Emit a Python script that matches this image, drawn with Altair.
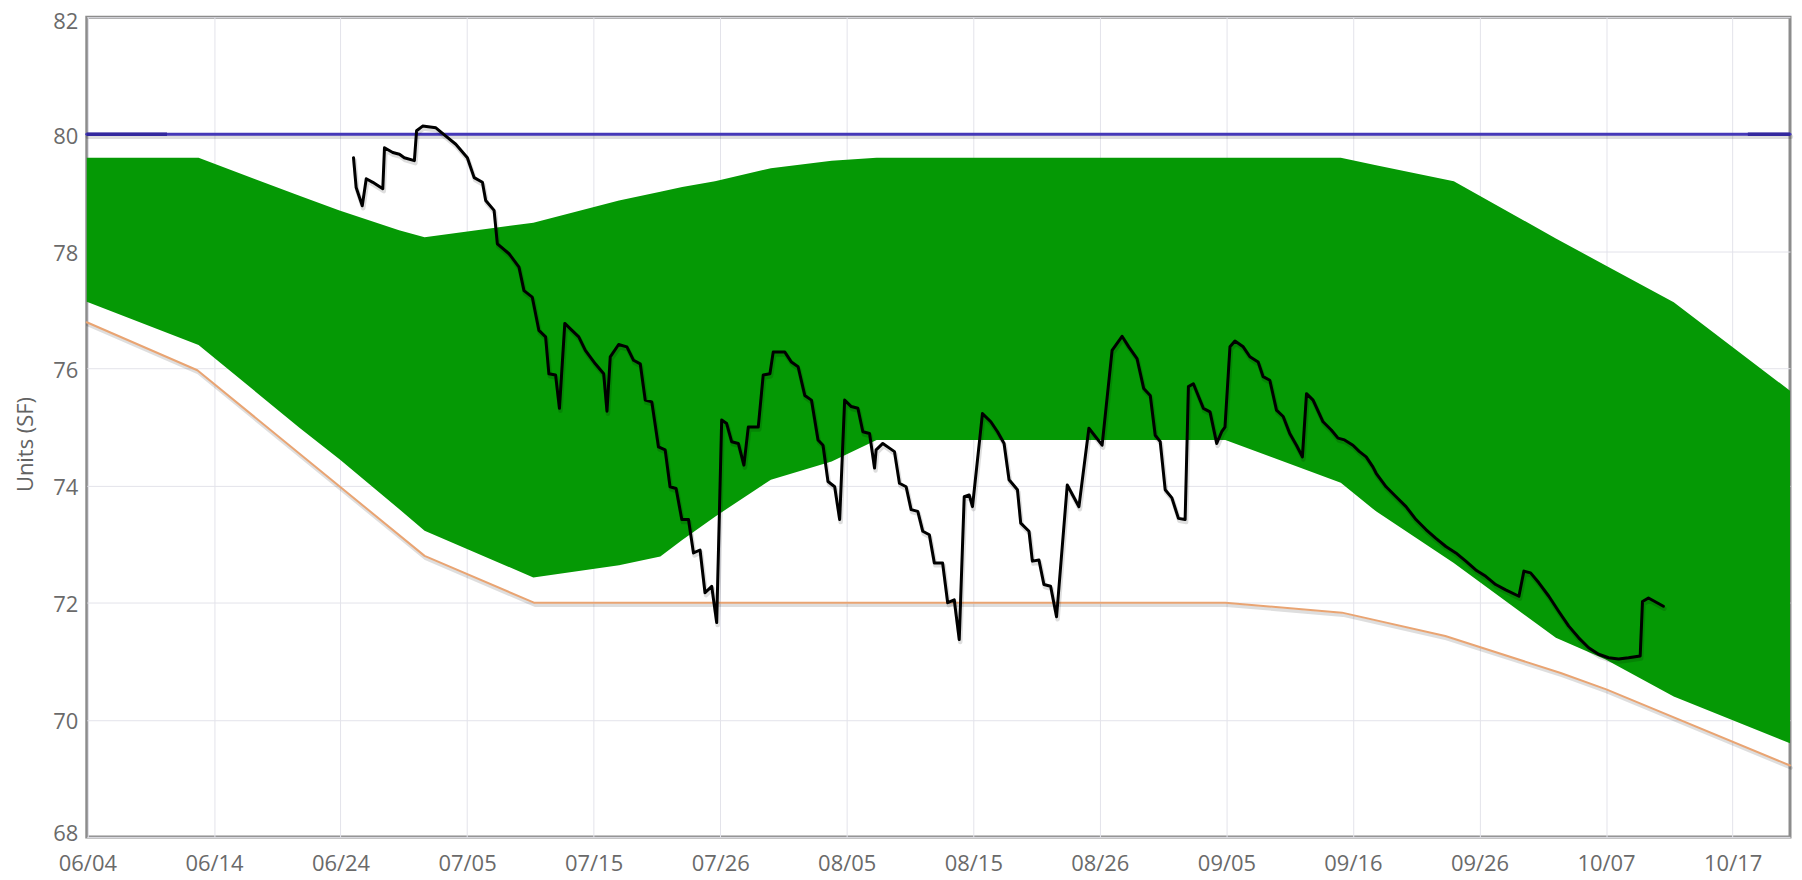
import altair as alt
import pandas as pd

# ---------------- data ----------------
BASE_DATE = "2019-06-04"          # day 0 of the season (year is not shown)

# green band: upper and lower edge
band_day = [0, 9.2, 17.5, 20.8, 25.7, 27.8, 36.75, 43.8, 47.2, 49.0, 51.7, 56.3,
            61.3, 65.0, 93.7, 103.2, 106.1, 112.5, 120.9, 125.0, 130.6, 140.17]
band_upper = [79.6, 79.6, 78.95, 78.70, 78.36, 78.24, 78.49, 78.87, 79.02, 79.10, 79.20, 79.42,
              79.55, 79.6, 79.6, 79.6, 79.47, 79.20, 78.22, 77.76, 77.13, 75.62]
band_lower = [77.14, 76.40, 74.99, 74.45, 73.60, 73.23, 72.43, 72.64, 72.79, 73.07, 73.47, 74.10,
              74.41, 74.78, 74.78, 74.05, 73.56, 72.68, 71.40, 71.03, 70.40, 69.60]

# orange lower bound line
bound_day = [0, 9.1, 27.8, 36.8, 93.7, 103.3, 111.8, 121.3, 125.05, 140.17]
bound_value = [76.79, 75.97, 72.80, 72.0, 72.0, 71.83, 71.43, 70.80, 70.52, 69.22]

# blue upper limit line (and its darker, doubly drawn end pieces)
limit_day = [0, 140.17]
limit_value = [80.0, 80.0]
limit_end_day = [0, 6.6, 136.7, 140.17]
limit_end_value = [80.0, 80.0, 80.0, 80.0]
limit_end_piece = ["start", "start", "end", "end"]

# black observed line
obs_day = [21.95, 22.17, 22.67, 23.00, 23.54, 24.36, 24.50, 25.18, 25.73, 26.13, 26.96, 27.14,
           27.64, 28.73, 29.55, 30.37, 31.32, 31.88, 32.56, 32.83, 33.52, 33.79, 34.75, 35.57,
           35.98, 36.66, 37.21, 37.76, 38.03, 38.58, 38.90, 39.34, 39.93, 40.49, 41.03, 41.85,
           42.54, 42.81, 43.08, 43.77, 44.45, 45.00, 45.55, 45.96, 46.50, 47.05, 47.60, 48.00,
           48.50, 48.97, 49.52, 49.93, 50.47, 50.88, 51.43, 51.84, 52.25, 52.66, 53.07, 53.62,
           54.08, 54.44, 55.26, 55.67, 56.22, 56.49, 57.45, 57.99, 58.54, 59.09, 59.64, 60.18,
           60.59, 61.00, 61.55, 61.96, 62.37, 62.92, 63.46, 63.87, 64.42, 64.83, 64.96, 65.51,
           66.06, 66.47, 66.88, 67.43, 67.84, 68.39, 68.80, 69.34, 69.75, 70.43, 70.85, 71.39,
           71.80, 72.21, 72.62, 72.89, 73.71, 74.40, 74.95, 75.49, 75.90, 76.59, 76.86, 77.54,
           77.82, 78.36, 78.77, 79.32, 79.81, 80.69, 81.65, 82.47, 83.56, 84.38, 85.20, 85.75,
           86.43, 86.98, 87.52, 87.93, 88.34, 88.75, 89.30, 89.84, 90.39, 90.66, 91.07, 91.89,
           92.44, 92.99, 93.40, 93.67, 94.08, 94.49, 95.17, 95.72, 96.40, 96.81, 97.36, 97.91,
           98.46, 99.00, 99.55, 100.04, 100.38, 100.92, 101.74, 102.42, 102.97, 103.51, 104.20,
           104.74, 105.29, 105.84, 106.11, 106.93, 107.75, 108.57, 109.39, 110.21, 111.03,
           111.85, 112.67, 113.49, 114.31, 115.13, 115.95, 116.77, 117.86, 118.27, 118.82,
           119.50, 120.32, 121.14, 121.96, 122.78, 123.60, 124.42, 125.24, 126.06, 126.88,
           127.84, 128.03, 128.52, 129.75]
obs_value = [79.60, 79.09, 78.78, 79.24, 79.18, 79.07, 79.77, 79.69, 79.66, 79.60, 79.55, 80.06,
             80.14, 80.11, 79.97, 79.83, 79.60, 79.26, 79.18, 78.87, 78.70, 78.13, 77.96, 77.73,
             77.33, 77.22, 76.65, 76.54, 75.91, 75.89, 75.32, 76.77, 76.65, 76.54, 76.31, 76.08,
             75.91, 75.27, 76.20, 76.41, 76.37, 76.14, 76.08, 75.46, 75.43, 74.66, 74.61, 73.98,
             73.95, 73.42, 73.42, 72.85, 72.90, 72.17, 72.28, 71.66, 75.12, 75.06, 74.75, 74.72,
             74.35, 75.00, 75.00, 75.89, 75.91, 76.28, 76.28, 76.11, 76.03, 75.54, 75.46, 74.78,
             74.69, 74.07, 73.98, 73.42, 75.46, 75.35, 75.32, 74.92, 74.89, 74.30, 74.61, 74.72,
             74.64, 74.58, 74.04, 73.98, 73.59, 73.56, 73.22, 73.16, 72.68, 72.68, 72.00, 72.05,
             71.37, 73.81, 73.84, 73.64, 75.23, 75.09, 74.92, 74.72, 74.10, 73.93, 73.36, 73.22,
             72.71, 72.73, 72.31, 72.28, 71.76, 74.01, 73.64, 74.98, 74.69, 76.31, 76.55, 76.37,
             76.17, 75.66, 75.54, 74.86, 74.75, 73.93, 73.79, 73.44, 73.42, 75.69, 75.74, 75.32,
             75.26, 74.72, 74.92, 75.00, 76.37, 76.47, 76.37, 76.20, 76.11, 75.86, 75.80, 75.29,
             75.18, 74.89, 74.69, 74.49, 75.57, 75.46, 75.09, 74.95, 74.81, 74.78, 74.69,
             74.58, 74.49, 74.32, 74.21, 73.98, 73.81, 73.64, 73.42, 73.25, 73.10,
             72.96, 72.85, 72.71, 72.56, 72.45, 72.31, 72.22, 72.11, 72.54, 72.51,
             72.34, 72.11, 71.85, 71.60, 71.40, 71.23, 71.12, 71.06, 71.04, 71.06,
             71.09, 72.02, 72.08, 71.94]

# axis ticks
x_tick_days = [0.05, 10.47, 20.88, 31.30, 41.71, 52.13, 62.54, 72.96, 83.37, 93.79,
               104.20, 114.62, 125.03, 135.45]
y_ticks = [68, 70, 72, 74, 76, 78, 80, 82]

# ---------------- styling ----------------
FONT = "Open Sans"
GREEN = "#059905"
ORANGE = "#e9a472"
BLUE = "#4538b8"
BLUE_DARK = "#33289e"
LABEL = "#6a6a6a"

base_ms = int(pd.Timestamp(BASE_DATE, tz="UTC").timestamp() * 1000)

band_df = pd.DataFrame({"day": band_day, "upper": band_upper, "lower": band_lower})
bound_df = pd.DataFrame({"day": bound_day, "value": bound_value})
limit_df = pd.DataFrame({"day": limit_day, "value": limit_value})
limit_end_df = pd.DataFrame({"day": limit_end_day, "value": limit_end_value,
                             "piece": limit_end_piece})
obs_df = pd.DataFrame({"day": obs_day, "value": obs_value})

x_scale = alt.Scale(domain=[0, 140.17], nice=False, zero=False)
y_scale = alt.Scale(domain=[68, 82], nice=False, zero=False)

x_axis = alt.Axis(
    values=x_tick_days,
    labelExpr=f"utcFormat({base_ms} + datum.value * 86400000, '%m/%d')",
    title=None, grid=True, ticks=False, domain=False,
    labelPadding=17, labelFont=FONT, labelFontSize=22, labelColor=LABEL,
    labelFlush=False, labelOverlap=False,
    gridColor="#e3e3ea", gridWidth=1,
)
y_axis = alt.Axis(
    values=y_ticks, format="d", title="Units (SF)", grid=True, ticks=False, domain=False,
    labelPadding=9, labelFont=FONT, labelFontSize=22, labelColor=LABEL,
    labelOverlap=False, labelBaseline="middle",
    labelOffset={"condition": [{"test": "datum.value == 82", "value": 4},
                               {"test": "datum.value == 68", "value": -3}],
                 "value": 2},
    gridColor="#e3e3ea", gridWidth=1,
    titleFont=FONT, titleFontSize=22, titleFontWeight="normal", titleColor="#626262",
    titleX=-54, titleY=428, titleBaseline="alphabetic",
)

area = alt.Chart(band_df).mark_area(color=GREEN, opacity=1).encode(
    x=alt.X("day:Q", scale=x_scale, axis=x_axis),
    y=alt.Y("upper:Q", scale=y_scale, axis=y_axis),
    y2="lower:Q",
)


def line_pair(df, color, width, shadow_opacity=0.13):
    enc = dict(x=alt.X("day:Q", scale=x_scale), y=alt.Y("value:Q", scale=y_scale))
    shadow = alt.Chart(df).mark_line(
        color="#000000", opacity=shadow_opacity, strokeWidth=width + 1.5,
        xOffset=1, yOffset=2.5, strokeJoin="round", strokeCap="round",
    ).encode(**enc)
    main = alt.Chart(df).mark_line(
        color=color, strokeWidth=width, strokeJoin="round", strokeCap="round",
    ).encode(**enc)
    return [shadow, main]


limit_ends = alt.Chart(limit_end_df).mark_line(
    color=BLUE_DARK, strokeWidth=3.5,
).encode(
    x=alt.X("day:Q", scale=x_scale),
    y=alt.Y("value:Q", scale=y_scale),
    detail="piece:N",
)

layers = [area]
layers += line_pair(bound_df, ORANGE, 2)
layers += line_pair(limit_df, BLUE, 3)
layers += [limit_ends]
layers += line_pair(obs_df, "#000000", 3)

chart = alt.layer(*layers).properties(
    width=1708, height=822,
    autosize=alt.AutoSizeParams(type="none"),
    padding={"left": 79, "top": 8, "right": 4, "bottom": 42},
    background="white",
).configure_view(
    stroke="#8c8c8c", strokeWidth=3,
)

chart.save("out.html", embed_options={"renderer": "svg", "actions": False})
